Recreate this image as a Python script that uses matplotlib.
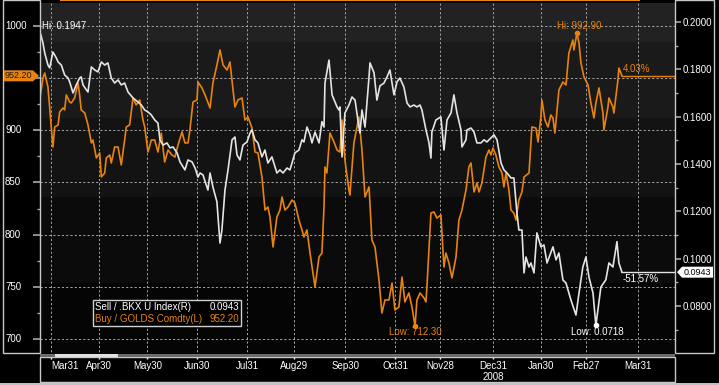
import numpy as np
import pandas as pd
import matplotlib
matplotlib.use("Agg")
import matplotlib.pyplot as plt
import matplotlib.dates as mdates
from matplotlib.patches import Rectangle, Polygon

plt.rcParams['font.family'] = ['Liberation Sans', 'DejaVu Sans']

# ---------------- data ----------------
BASE = pd.Timestamp('2008-03-31')

bkx_day = [-6.4,-5.0,-3.9,-1.9,-0.8,1.2,3.3,4.4,6.4,8.5,
           10.6,11.6,12.6,13.7,15.7,17.8,18.8,19.9,22.0,23.0,
           25.1,27.2,29.2,31.3,33.4,35.4,37.5,39.6,41.7,43.7,
           45.8,47.9,51.0,54.1,56.2,58.3,60.3,62.4,64.5,66.5,
           67.8,69.7,72.1,74.0,75.9,78.4,80.2,83.3,85.2,87.7,
           89.6,91.4,92.7,94.5,97.6,98.9,100.7,103.2,105.1,106.3,
           108.2,110.1,112.6,114.4,115.7,117.5,119.4,121.9,123.8,125.0,
           126.9,128.7,131.2,133.1,134.9,137.4,140.5,142.4,144.3,146.8,
           148.6,149.9,151.7,154.2,156.1,157.3,159.2,161.1,162.3,164.2,
           166.7,168.5,169.8,170.4,172.9,174.8,177.9,179.1,179.7,181.0,
           182.8,185.3,187.2,189.1,191.5,192.2,193.4,195.3,197.8,198.4,
           200.9,202.7,204.6,207.1,209.0,210.8,213.3,215.2,217.0,219.5,
           221.4,223.3,225.7,227.6,229.5,230.7,233.2,235.1,236.3,236.9,
           239.4,242.5,244.4,246.3,248.8,250.6,252.5,255.0,255.6,258.1,
           258.7,261.2,263.1,264.9,267.4,269.3,271.1,273.6,275.5,277.4,
           279.9,281.7,283.6,286.1,287.9,289.8,291.0,292.9,294.2,295.4,
           297.3,298.5,300.4,302.2,304.7,306.6,308.5,312.2,314.1,315.9,
           318.4,320.3,323.4,326.5,328.4,330.8,332.7,334.6,337.1,338.9,
           342.0,345.1,347.0,349.5,352.0,353.2,355.1]
bkx_val = [0.1947,0.1911,0.1869,0.1818,0.1806,0.1873,0.1848,0.1831,0.1818,0.1776,
           0.1763,0.1747,0.1725,0.1700,0.1734,0.1763,0.1768,0.1734,0.1713,0.1704,
           0.1810,0.1797,0.1789,0.1831,0.1818,0.1827,0.1763,0.1742,0.1755,0.1734,
           0.1742,0.1704,0.1679,0.1662,0.1649,0.1628,0.1620,0.1607,0.1586,0.1573,
           0.1502,0.1480,0.1489,0.1468,0.1472,0.1447,0.1409,0.1375,0.1417,0.1409,
           0.1383,0.1345,0.1362,0.1354,0.1290,0.1362,0.1303,0.1240,0.1066,0.1121,
           0.1290,0.1375,0.1502,0.1514,0.1438,0.1417,0.1480,0.1493,0.1531,0.1544,
           0.1502,0.1489,0.1430,0.1459,0.1404,0.1430,0.1362,0.1375,0.1362,0.1383,
           0.1375,0.1404,0.1447,0.1459,0.1502,0.1493,0.1556,0.1523,0.1489,0.1535,
           0.1489,0.1579,0.1556,0.1742,0.1839,0.1692,0.1641,0.1628,0.1641,0.1430,
           0.1615,0.1649,0.1683,0.1670,0.1556,0.1531,0.1628,0.1556,0.1768,0.1827,
           0.1785,0.1670,0.1730,0.1742,0.1768,0.1797,0.1692,0.1747,0.1763,0.1725,
           0.1658,0.1641,0.1649,0.1641,0.1649,0.1628,0.1544,0.1489,0.1425,0.1535,
           0.1586,0.1599,0.1459,0.1586,0.1616,0.1692,0.1616,0.1544,0.1472,0.1502,
           0.1544,0.1552,0.1535,0.1489,0.1489,0.1502,0.1493,0.1510,0.1523,0.1502,
           0.1404,0.1375,0.1362,0.1341,0.1341,0.1193,0.1121,0.1121,0.0940,0.1007,
           0.0965,0.0982,0.0940,0.1109,0.1050,0.1058,0.0982,0.1050,0.0995,0.1024,
           0.0910,0.0897,0.0825,0.0762,0.0855,0.0965,0.1007,0.0922,0.0855,0.0718,
           0.0880,0.0911,0.0982,0.0965,0.1072,0.0982,0.0943]

gold_day = [-7.0,-5.0,-3.9,-1.9,0.2,1.2,2.3,4.4,5.4,7.5,
            8.5,9.5,11.6,12.6,14.7,16.8,17.8,18.8,21.0,23.0,
            25.1,26.1,28.2,30.3,31.3,33.4,34.4,36.5,37.5,39.6,
            41.7,43.7,45.8,46.8,48.9,51.0,53.0,55.2,57.2,58.3,
            60.3,62.4,64.5,66.5,68.6,70.7,72.8,75.2,77.1,79.0,
            81.5,83.3,85.2,86.4,88.3,90.8,91.4,93.9,95.8,98.9,
            100.7,103.2,105.1,107.0,109.5,111.3,114.4,116.3,118.8,120.6,
            122.5,125.0,126.9,128.7,131.2,133.1,134.9,136.2,138.1,140.5,
            142.4,143.7,145.5,147.4,149.9,151.7,154.2,156.1,157.3,159.2,
            161.1,163.6,164.2,166.7,168.5,169.8,170.4,171.6,173.5,176.0,
            177.9,179.7,181.0,182.8,185.3,185.9,188.4,190.3,191.5,193.4,
            195.3,197.8,199.6,201.5,204.0,205.8,207.7,210.2,212.1,213.9,
            216.4,218.3,220.1,222.6,224.5,226.4,227.6,229.5,232.0,233.2,
            233.8,236.3,238.2,240.0,242.5,244.4,245.6,247.5,249.4,251.9,
            253.7,255.6,258.1,259.9,261.2,263.1,264.9,266.2,268.0,270.5,
            272.4,273.6,274.9,276.7,278.6,280.5,281.7,283.0,284.8,286.1,
            287.9,289.2,291.0,292.9,294.2,297.3,299.1,301.6,302.9,304.7,
            305.3,307.2,309.1,310.9,312.2,313.4,315.9,318.4,320.3,322.1,
            324.6,325.2,327.1,328.4,329.6,331.5,334.0,335.8,337.7,338.9,
            340.8,343.3,343.9,346.4,347.0,349.5,350.1,352.6,353.2,355.1]
gold_val = [929.1,950.2,954.9,941.5,903.2,884.0,903.2,905.1,917.6,921.4,
            919.5,933.9,927.1,926.2,931.0,945.3,933.9,919.5,916.6,905.1,
            887.9,890.7,873.5,878.3,855.3,859.1,873.5,876.3,868.7,884.0,
            884.0,866.8,890.7,903.2,905.1,931.0,924.3,929.1,909.9,903.2,
            879.2,890.7,890.7,879.2,897.4,869.6,881.1,876.3,874.4,885.9,
            898.4,887.9,887.9,900.3,927.1,929.1,946.3,940.6,933.9,921.4,
            945.3,962.6,977.0,962.6,957.8,965.5,922.3,929.1,931.0,909.9,
            912.8,902.2,879.2,878.3,855.3,823.6,826.5,816.9,788.2,816.9,
            823.6,836.1,823.6,826.5,833.2,830.3,814.0,804.5,797.7,804.5,
            782.4,756.5,749.8,778.6,782.4,826.5,864.8,859.1,897.4,888.8,
            881.1,879.2,909.9,871.6,842.8,838.0,887.9,903.2,912.8,881.1,
            836.1,845.7,794.8,788.2,756.5,724.9,737.4,737.4,753.6,727.8,
            730.7,759.4,735.5,744.1,730.7,712.3,737.4,744.1,739.3,735.5,
            749.8,820.7,821.7,815.9,818.8,769.0,782.4,772.8,758.5,778.6,
            814.0,823.6,842.8,864.8,868.7,840.9,849.5,840.9,849.5,874.4,
            881.1,876.3,883.0,876.3,864.8,859.1,845.7,859.1,842.8,823.6,
            820.7,814.0,833.2,840.9,855.3,859.1,903.2,902.2,888.8,912.8,
            929.1,909.9,903.2,914.7,911.8,897.4,938.7,946.3,943.4,974.1,
            986.6,977.0,992.9,983.7,964.5,951.1,943.4,926.2,911.8,926.2,
            940.6,916.6,900.3,922.3,931.0,922.3,916.6,948.2,959.7,952.2]

month_ticks = ['2008-03-31', '2008-04-30', '2008-05-30', '2008-06-30', '2008-07-31',
               '2008-08-29', '2008-09-30', '2008-10-31', '2008-11-28', '2008-12-31',
               '2009-01-30', '2009-02-27', '2009-03-31']
month_labels = ['Mar31', 'Apr30', 'May30', 'Jun30', 'Jul31', 'Aug29', 'Sep30',
                'Oct31', 'Nov28', 'Dec31', 'Jan30', 'Feb27', 'Mar31']
year_label = '2008'
gold_ticks = [700, 750, 800, 850, 900, 950, 1000]
gold_tick_labels = ['700', '750', '800', '850', '900', '', '1000']
gold_minor = [725, 775, 825, 875, 925, 975]
bkx_ticks = [0.08, 0.10, 0.12, 0.14, 0.16, 0.18, 0.20]
bkx_minor = [0.07, 0.09, 0.11, 0.13, 0.15, 0.17, 0.19]
gold_name = 'Buy / GOLDS Comdty(L)'
bkx_name = 'Sell / .BKX U Index(R)'
gold_chg = '4.03%'
bkx_chg = '-51.57%'

ORANGE = '#e8830e'
WHITE = '#e4e4e4'

# ---------------- figure ----------------
W, H = 719, 385
fig = plt.figure(figsize=(W / 100, H / 100), dpi=100, facecolor='black')


def fx(px):
    return px / W


def fy(py):
    return 1 - py / H


PL, PR, PT, PB = 40, 675, 3, 356
ax = fig.add_axes([fx(PL), fy(PB), fx(PR) - fx(PL), fy(PT) - fy(PB)])
ax.set_facecolor('black')
ax2 = ax.twinx()

band_edges = [0, 0.207, 0.450, 0.674, 0.890, 1.0]
band_colors = ['#050505', '#0b0b0b', '#131313', '#1a1a1a', '#222222']
for i in range(5):
    ax.add_patch(Rectangle((0, band_edges[i]), 1, band_edges[i + 1] - band_edges[i],
                           transform=ax.transAxes, facecolor=band_colors[i],
                           edgecolor='none', zorder=0))

b0 = mdates.date2num(BASE)
gx = mdates.date2num(BASE + pd.to_timedelta(gold_day, unit='D'))
bx = mdates.date2num(BASE + pd.to_timedelta(bkx_day, unit='D'))
xmin, xmax = b0 - 6.84, b0 + 388.1

ax.set_xlim(xmin, xmax)
ax.set_ylim(683.7, 1022.0)
ax2.set_ylim(0.0589, 0.2080)

ax.plot(gx, gold_val, color=ORANGE, lw=1.2, zorder=3)
ax.plot([gx[-1], xmax], [gold_val[-1], gold_val[-1]], color=ORANGE, lw=1.0, zorder=3)
ax2.plot(bx, bkx_val, color=WHITE, lw=1.2, zorder=3)
ax2.plot([bx[-1], xmax], [bkx_val[-1], bkx_val[-1]], color=WHITE, lw=1.0, zorder=3)

# hi / low markers
gi_hi, gi_lo = int(np.argmax(gold_val)), int(np.argmin(gold_val))
bi_hi, bi_lo = int(np.argmax(bkx_val)), int(np.argmin(bkx_val))
ax.plot([gx[gi_hi], gx[gi_lo]], [gold_val[gi_hi], gold_val[gi_lo]], 'o', ms=3,
        color=ORANGE, zorder=4)
ax2.plot([bx[bi_lo]], [bkx_val[bi_lo]], 'o', ms=3, color='white', zorder=4)

fs = 7
ax.annotate(f'Hi: {gold_val[gi_hi]:.2f}', xy=(gx[gi_hi], gold_val[gi_hi]), xytext=(2, 7),
            textcoords='offset pixels', ha='center', va='center', color=ORANGE, fontsize=fs)
ax.annotate(f'Low: {gold_val[gi_lo]:.2f}', xy=(gx[gi_lo], gold_val[gi_lo]), xytext=(0, -6),
            textcoords='offset pixels', ha='center', va='center', color=ORANGE, fontsize=fs)
ax2.annotate(f'Hi: {bkx_val[bi_hi]:.4f}', xy=(bx[bi_hi], bkx_val[bi_hi]), xytext=(1, 8),
             textcoords='offset pixels', ha='left', va='center', color='white', fontsize=fs)
ax2.annotate(f'Low: {bkx_val[bi_lo]:.4f}', xy=(bx[bi_lo], bkx_val[bi_lo]), xytext=(1, -7),
             textcoords='offset pixels', ha='center', va='center', color='white', fontsize=fs)
ax.annotate(gold_chg, xy=(gx[-1], gold_val[-1]), xytext=(1, 7),
            textcoords='offset pixels', ha='left', va='center', color=ORANGE, fontsize=fs)
ax2.annotate(bkx_chg, xy=(bx[-1], bkx_val[-1]), xytext=(1, -7),
             textcoords='offset pixels', ha='left', va='center', color='white', fontsize=fs)

# grid and ticks
ax.set_xticks(mdates.date2num(pd.to_datetime(month_ticks)))
ax.set_xticklabels(month_labels)
ax.set_yticks(gold_ticks)
ax.set_yticks(gold_minor, minor=True)
ax.grid(True, which='major', color='#a5a5a5', linestyle=(0, (2.2, 2.2)), linewidth=0.7)
ax.tick_params(axis='x', direction='out', length=2.5, width=1, color='white',
               labelcolor='white', labelsize=fs, pad=1)
ax.tick_params(axis='y', which='major', direction='out', length=5, width=1.2,
               color='#a8a8a8', labelleft=False)
ax.tick_params(axis='y', which='minor', direction='out', length=2.5, width=1,
               color='#a8a8a8')
xl = ax.get_xticklabels()
xl[0].set_ha('left')
xl[0].set_x(mdates.date2num(pd.Timestamp(month_ticks[0])))

ax2.set_yticks(bkx_ticks)
ax2.set_yticklabels([f'{t:.4f}' for t in bkx_ticks])
ax2.set_yticks(bkx_minor, minor=True)
ax2.tick_params(axis='y', which='major', direction='out', length=4.5, width=1.2,
                color='#a8a8a8', labelcolor='white', labelsize=fs, pad=1.2)
ax2.tick_params(axis='y', which='minor', direction='out', length=2.5, width=1,
                color='#a8a8a8')

for s in list(ax.spines.values()) + list(ax2.spines.values()):
    s.set_visible(False)

ytr = ax.get_yaxis_transform()
for v, lab in zip(gold_ticks, gold_tick_labels):
    if lab:
        ax.text((5 - PL) / (PR - PL), v, lab, transform=ytr, ha='left', va='center',
                color='white', fontsize=fs, clip_on=False)

# year label under Dec31
dec_x = mdates.date2num(pd.Timestamp('2008-12-31'))
ax.text(dec_x, -0.045, year_label, transform=ax.get_xaxis_transform(), ha='center',
        va='top', color='white', fontsize=fs, clip_on=False)


# frames
def frame(x0, y0, x1, y1, **kw):
    fig.add_artist(Rectangle((fx(x0), fy(y1)), fx(x1) - fx(x0), fy(y0) - fy(y1),
                             transform=fig.transFigure, **kw))


frame(3, 0, 40, 353, fill=False, edgecolor='#c8c8c8', lw=1)
frame(675, 0, 714, 353, fill=False, edgecolor='#c8c8c8', lw=1)
frame(40, 357, 675, 382, fill=False, edgecolor='#c8c8c8', lw=1)
frame(40, 353.5, 675, 356.5, facecolor='#6c6c6c', edgecolor='none')
frame(55, 353.5, 118, 356.5, facecolor='#e0e0e0', edgecolor='none')
frame(60, 0, 640, 1.0, facecolor=ORANGE, edgecolor='none')
frame(0, 382.5, 719, 385, facecolor='#c0c0c0', edgecolor='none')


def px_y(axis, v):
    return H - axis.transData.transform((0, v))[1]


# last-value tags
gy = px_y(ax, gold_val[-1])
pts = [(4, gy - 5.5), (33, gy - 5.5), (39, gy), (33, gy + 5.5), (4, gy + 5.5)]
fig.add_artist(Polygon([(fx(a), fy(b)) for a, b in pts], closed=True,
                       transform=fig.transFigure, facecolor=ORANGE, edgecolor='none'))
fig.text(fx(18.5), fy(gy), f'{gold_val[-1]:.2f}', ha='center', va='center',
         color='#1a1a1a', fontsize=6.5)

by = px_y(ax2, bkx_val[-1])
pts = [(677, by), (682, by - 5.5), (713, by - 5.5), (713, by + 5.5), (682, by + 5.5)]
fig.add_artist(Polygon([(fx(a), fy(b)) for a, b in pts], closed=True,
                       transform=fig.transFigure, facecolor='white', edgecolor='none'))
fig.text(fx(697.5), fy(by), f'{bkx_val[-1]:.4f}', ha='center', va='center',
         color='black', fontsize=6.5)

# legend box
frame(93, 300, 241, 326, facecolor='black', edgecolor='#d0d0d0', lw=1)
fig.text(fx(95), fy(307.5), bkx_name, ha='left', va='center', color='white', fontsize=7)
fig.text(fx(239.5), fy(307.5), f'{bkx_val[-1]:.4f}', ha='right', va='center',
         color='white', fontsize=7)
fig.text(fx(95), fy(318.5), gold_name, ha='left', va='center', color=ORANGE, fontsize=7)
fig.text(fx(239.5), fy(318.5), f'{gold_val[-1]:.2f}', ha='right', va='center',
         color=ORANGE, fontsize=7)

fig.savefig('out.png', dpi=100, facecolor='black')
